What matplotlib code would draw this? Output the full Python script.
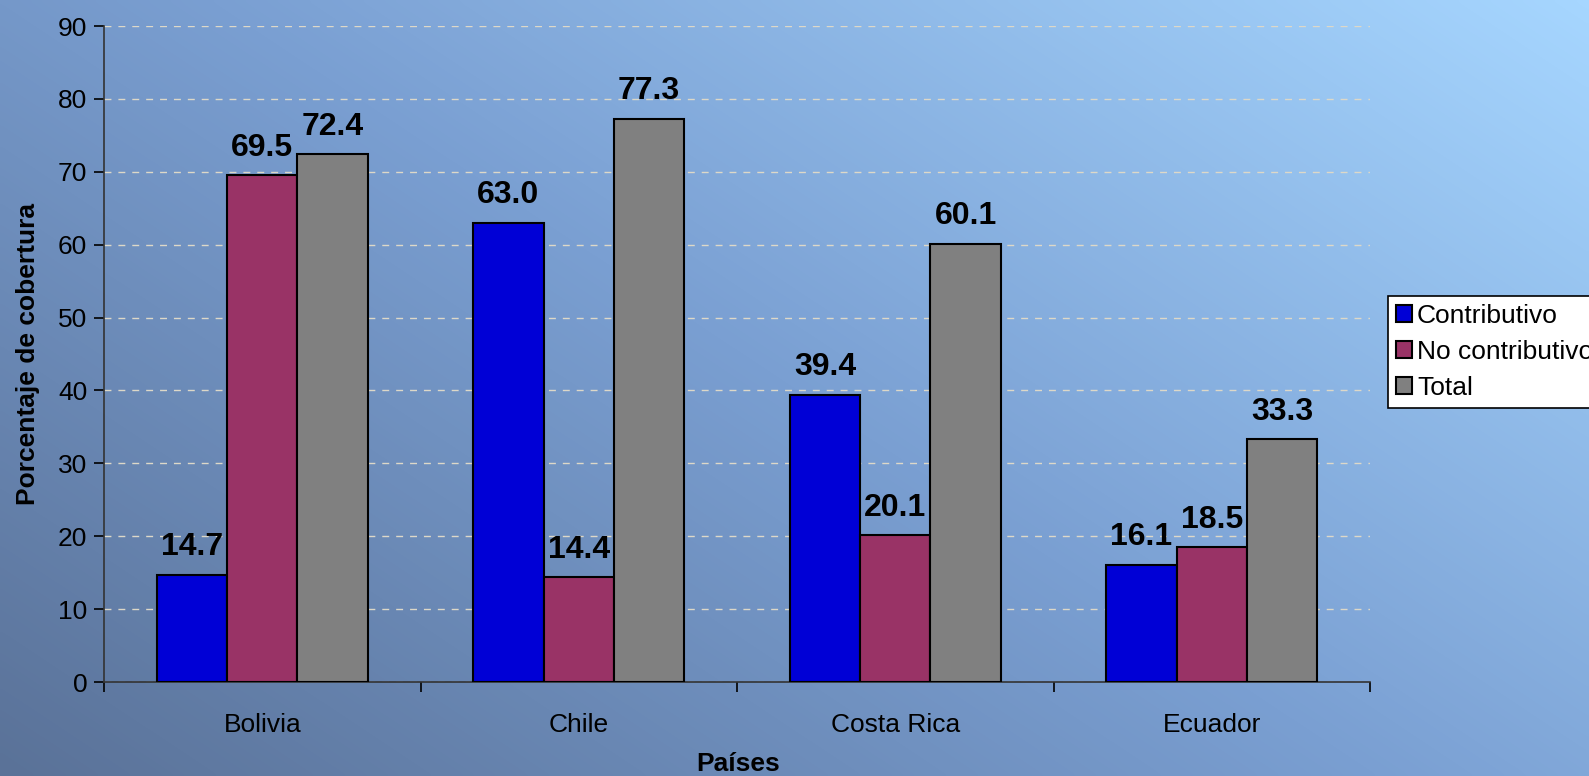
import numpy as np
import matplotlib.pyplot as plt
from matplotlib.colors import LinearSegmentedColormap

# data
paises = ['Bolivia', 'Chile', 'Costa Rica', 'Ecuador']
contributivo = [14.7, 63.0, 39.4, 16.1]
no_contributivo = [69.5, 14.4, 20.1, 18.5]
total = [72.4, 77.3, 60.1, 33.3]
series_names = ['Contributivo', 'No contributivo', 'Total']
colores = ['#0000d6', '#993366', '#808080']

plt.rcParams['font.family'] = ['Liberation Sans', 'DejaVu Sans']

W, H = 1589, 776
fig = plt.figure(figsize=(W / 100, H / 100), dpi=100)

# diagonal gradient background
bg = fig.add_axes([0, 0, 1, 1], zorder=-10)
yy, xx = np.mgrid[0:1:200j, 0:1:400j]
t = (xx * 0.75 + yy * 0.55) / 1.3
cmap = LinearSegmentedColormap.from_list('bg', ['#5a7298', '#7a9fd2', '#a6d6ff'])
bg.imshow(t, cmap=cmap, origin='lower', aspect='auto', extent=[0, 1, 0, 1], interpolation='bicubic')
bg.axis('off')

ax = fig.add_axes([104 / W, 1 - 682 / H, (1370 - 104) / W, (682 - 26) / H])
ax.patch.set_alpha(0)

x = np.arange(len(paises))
w = 0.222
bars = []
for k, (vals, name, c) in enumerate(zip([contributivo, no_contributivo, total], series_names, colores)):
    b = ax.bar(x + (k - 1) * w, vals, w, color=c, edgecolor='black', linewidth=1.5, label=name, zorder=3)
    bars.append(b)
    for xi, v in zip(x + (k - 1) * w, vals):
        ax.annotate(f'{v:.1f}', (xi, v), xytext=(0, 9), textcoords='offset points',
                    ha='center', va='bottom', fontsize=23, fontweight='bold', zorder=4)

ax.set_xlim(-0.5, 3.5)
ax.set_ylim(0, 90)
ax.set_yticks(range(0, 91, 10))
ax.tick_params(axis='y', labelsize=19, length=7, width=1.2, direction='out', pad=5)
ax.set_xticks(x)
ax.set_xticklabels(paises, fontsize=19)
ax.tick_params(axis='x', length=0, pad=22)
ax.set_xticks(np.arange(-0.5, 4, 1), minor=True)
ax.tick_params(axis='x', which='minor', length=7, width=1.2)
ax.yaxis.grid(True, linestyle=(0, (5, 5)), color='#ddd8c8', linewidth=1, zorder=0)
for s in ['top', 'right']:
    ax.spines[s].set_visible(False)
ax.spines['left'].set_color('#333333')
ax.spines['bottom'].set_color('#333333')
ax.spines['left'].set_linewidth(1.2)
ax.spines['bottom'].set_linewidth(1.2)

ax.set_ylabel('Porcentaje de cobertura', fontsize=19, fontweight='bold', labelpad=13)
fig.text(738 / W, 1 - 764 / H, 'Países', ha='center', va='center', fontsize=19, fontweight='bold')

leg = fig.legend(handles=bars, labels=series_names, loc='upper left',
                 bbox_to_anchor=(1388 / W, 1 - 296 / H), fontsize=19, frameon=True,
                 fancybox=False, edgecolor='black', framealpha=1, borderpad=0.3,
                 handlelength=0.6, handleheight=0.6, handletextpad=0.2, labelspacing=0.45,
                 borderaxespad=0)
leg.get_frame().set_linewidth(1.2)

fig.savefig('out.png', dpi=100)
